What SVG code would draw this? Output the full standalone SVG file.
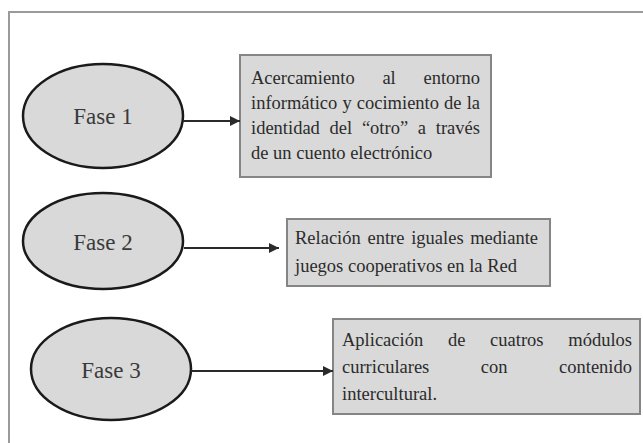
<svg xmlns="http://www.w3.org/2000/svg" width="643" height="443" viewBox="0 0 643 443">
<style>
.frame{fill:none;stroke:#9a9a9a;stroke-width:2}
.ell{fill:#d9d9d9;stroke:#1a1a1a;stroke-width:2.5}
.box{fill:#d9d9d9;stroke:#858585;stroke-width:2}
.lbl{font-family:"Liberation Serif","Times New Roman",serif;font-size:23px;fill:#3a3a3a;text-anchor:middle}
.txt{font-family:"Liberation Serif","Times New Roman",serif;font-size:18.5px;fill:#2b2b2b}
.end{text-anchor:end}
.con{fill:none;stroke:#2a2a2a;stroke-width:2}
</style>
<defs>
<marker id="arr" viewBox="0 0 10 10" refX="10" refY="5" markerWidth="5" markerHeight="5" orient="auto" markerUnits="strokeWidth">
<path d="M0,0 L10,5 L0,10 z" fill="#2a2a2a"/>
</marker>
</defs>
<rect width="643" height="443" fill="#ffffff"/>
<path class="frame" d="M9,443 L9,12 L643,12"/>
<g id="fase1">
<ellipse class="ell" cx="103" cy="116" rx="80" ry="52"/>
<text class="lbl" x="103" y="124">Fase 1</text>
</g>
<g id="fase2">
<ellipse class="ell" cx="103" cy="241" rx="80" ry="48"/>
<text class="lbl" x="103" y="250">Fase 2</text>
</g>
<g id="fase3">
<ellipse class="ell" cx="111" cy="369" rx="80" ry="51"/>
<text class="lbl" x="111" y="378">Fase 3</text>
</g>
<g id="box1">
<rect class="box" x="240" y="55" width="251" height="122"/>
<text class="txt" y="84"><tspan x="251">Acercamiento</tspan><tspan x="382.4">al</tspan></text>
<text class="txt end" x="480" y="84">entorno</text>
<text class="txt" y="109"><tspan x="251">informático</tspan><tspan x="342.4">y</tspan><tspan x="356.8">cocimiento</tspan><tspan x="444">de</tspan></text>
<text class="txt end" x="480" y="109">la</text>
<text class="txt" y="134"><tspan x="251">identidad</tspan><tspan x="329.6">del</tspan><tspan x="361.9">“otro”</tspan><tspan x="417.8">a</tspan></text>
<text class="txt end" x="480" y="134">través</text>
<text class="txt" x="251" y="159">de un cuento electrónico</text>
</g>
<g id="box2">
<rect class="box" x="287" y="219" width="263" height="67"/>
<text class="txt" y="244"><tspan x="295">Relación</tspan><tspan x="367.5">entre</tspan><tspan x="411.2">iguales</tspan></text>
<text class="txt end" x="538" y="244">mediante</text>
<text class="txt" x="295" y="272">juegos cooperativos en la Red</text>
</g>
<g id="box3">
<rect class="box" x="333" y="319" width="307" height="95"/>
<text class="txt" y="346"><tspan x="342">Aplicación</tspan><tspan x="447.9">de</tspan><tspan x="490.1">cuatros</tspan></text>
<text class="txt end" x="632" y="346">módulos</text>
<text class="txt" y="373"><tspan x="342">curriculares</tspan><tspan x="480.8">con</tspan></text>
<text class="txt end" x="632" y="373">contenido</text>
<text class="txt" x="342" y="400">intercultural.</text>
</g>
<g id="connectors">
<line class="con" x1="183" y1="121" x2="240" y2="121" marker-end="url(#arr)"/>
<line class="con" x1="184" y1="248" x2="279" y2="248" marker-end="url(#arr)"/>
<line class="con" x1="191" y1="371" x2="333" y2="371" marker-end="url(#arr)"/>
</g>
</svg>
